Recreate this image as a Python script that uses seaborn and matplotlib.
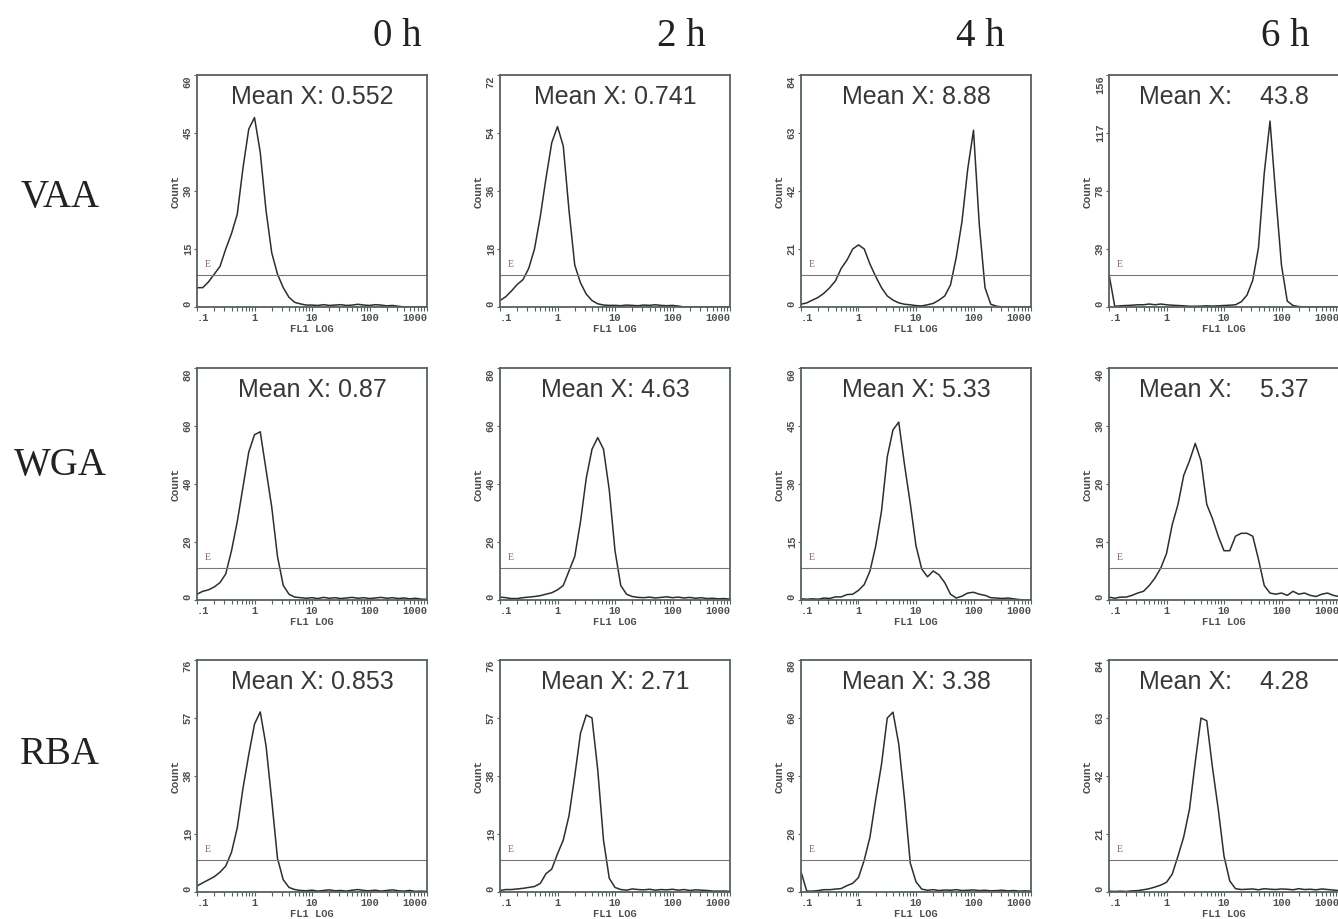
import numpy as np
import matplotlib
matplotlib.use('Agg')
import matplotlib.pyplot as plt
import seaborn as sns
from matplotlib.ticker import FixedLocator, NullFormatter, LogLocator

sns.set_theme(style='white')
plt.rcParams['font.family'] = ['Liberation Mono', 'DejaVu Sans Mono']

# FL1 channel centres, 0.1-decade bins from .1 to 1000
fl1 = 10 ** (np.arange(41) / 10 - 1)

times = ['0 h', '2 h', '4 h', '6 h']
lectins = ['VAA', 'WGA', 'RBA']

# counts (41 bins each)
vaa_0h = [5, 5, 6.5, 8.5, 10.5, 15, 19, 24, 36, 46,
          49, 40, 25, 14, 8.5, 5, 2.5, 1.2, 0.8, 0.5,
          0.5, 0.4, 0.6, 0.4, 0.5, 0.6, 0.4, 0.5, 0.7, 0.5,
          0.4, 0.6, 0.5, 0.3, 0.4, 0.2, 0, 0, 0, 0, 0]
vaa_2h = [2, 3.2, 5, 7, 8.5, 12, 18, 28, 40, 51,
          56, 50, 30, 13, 7.5, 4, 2, 1, 0.6, 0.5,
          0.5, 0.4, 0.6, 0.5, 0.4, 0.6, 0.5, 0.7, 0.5, 0.4,
          0.5, 0.3, 0, 0, 0, 0, 0, 0, 0, 0, 0]
vaa_4h = [1, 1.5, 2.5, 3.5, 5, 7, 9.5, 14, 17, 21,
          22.5, 21, 15.5, 11, 7, 4, 2.5, 1.5, 1, 0.8,
          0.5, 0.4, 0.8, 1.3, 2.5, 4, 8, 18, 31, 50,
          64, 30, 7, 1, 0.3, 0, 0, 0, 0, 0, 0]
vaa_6h = [22, 0.5, 0.8, 1, 1.2, 1.5, 1.5, 2, 1.5, 2,
          1.5, 1.2, 1, 0.8, 0.5, 0.5, 0.6, 0.8, 0.6, 0.8,
          1, 1.2, 1.5, 3.5, 8, 18, 40, 90, 125, 75,
          28, 4, 1, 0.3, 0, 0, 0, 0, 0, 0, 0]
wga_0h = [2, 3, 3.5, 4.5, 6, 9, 17, 27, 39, 51,
          57, 58, 45, 32, 15, 5, 2, 1, 0.8, 0.6,
          0.8, 0.5, 0.9, 0.6, 0.8, 0.5, 0.7, 0.9, 0.6, 0.8,
          0.5, 0.7, 0.9, 0.6, 0.8, 0.5, 0.7, 0.4, 0.6, 0.3, 0.2]
wga_2h = [1, 0.8, 0.5, 0.5, 0.8, 1, 1.2, 1.5, 2, 2.5,
          3.5, 5, 10, 15, 27, 42, 52, 56, 52, 38,
          17, 5, 2, 1.2, 0.9, 0.8, 1, 0.7, 0.9, 1.1,
          0.8, 1, 0.7, 0.9, 0.6, 0.8, 0.5, 0.6, 0.4, 0.5, 0.3]
wga_4h = [0.3, 0.2, 0.3, 0.2, 0.5, 0.4, 0.8, 0.8, 1.4, 1.5,
          2.5, 4, 7.5, 14, 23, 37, 44, 46, 35, 25,
          14, 8, 6, 7.5, 6.5, 4.5, 1.5, 0.5, 1, 1.8,
          2, 1.5, 1.2, 0.6, 0.5, 0.4, 0.5, 0.3, 0.1, 0, 0]
wga_6h = [0.5, 0.3, 0.5, 0.5, 0.8, 1.2, 1.5, 2.5, 3.8, 5.5,
          8, 13, 16.5, 21.5, 24, 27, 24, 16.5, 14, 11,
          8.5, 8.5, 11, 11.5, 11.5, 11, 7, 2.5, 1.2, 1,
          1.2, 0.8, 1.5, 1, 1.2, 0.8, 0.6, 1, 1.2, 0.8, 0.6]
rba_0h = [2, 3, 4, 5, 6.5, 8.5, 13, 21, 34, 45,
          55, 59, 48, 30, 11, 4, 1.5, 0.8, 0.5, 0.4,
          0.6, 0.3, 0.5, 0.7, 0.4, 0.5, 0.3, 0.6, 0.8, 0.5,
          0.4, 0.6, 0.3, 0.5, 0.7, 0.4, 0.3, 0.5, 0.2, 0.3, 0.2]
rba_2h = [0.5, 0.8, 0.8, 1, 1.2, 1.5, 1.8, 2.8, 6, 7.5,
          12.5, 17, 25, 38, 52, 58, 57, 40, 17, 4.5,
          1.5, 0.8, 0.6, 1, 0.8, 0.7, 0.9, 0.6, 0.8, 0.7,
          0.9, 0.6, 0.8, 0.5, 0.7, 0.6, 0.5, 0.3, 0.3, 0.3, 0.2]
rba_4h = [7, 0.3, 0.3, 0.5, 0.8, 0.8, 1, 1.2, 2.2, 3,
          5, 11, 19, 32, 44, 60, 62, 51, 32, 10,
          3.5, 1, 0.6, 0.8, 0.5, 0.7, 0.6, 0.8, 0.5, 0.6,
          0.7, 0.5, 0.6, 0.4, 0.5, 0.6, 0.4, 0.5, 0.3, 0.4, 0.3]
rba_6h = [0.3, 0.2, 0.3, 0.2, 0.4, 0.5, 0.8, 1.2, 1.8, 2.5,
          3.5, 6.5, 13, 20, 30, 47, 63, 62, 45, 30,
          13, 4, 1.2, 0.9, 1, 1.1, 0.8, 1.2, 1, 0.9,
          1.1, 1, 0.8, 1.2, 0.9, 1, 0.8, 1.1, 0.9, 0.7, 0.5]

counts = [[vaa_0h, vaa_2h, vaa_4h, vaa_6h],
          [wga_0h, wga_2h, wga_4h, wga_6h],
          [rba_0h, rba_2h, rba_4h, rba_6h]]

# top of the count axis for each panel
y_max = [[60, 72, 84, 156],
         [80, 80, 60, 40],
         [76, 76, 80, 84]]

mean_labels = [['Mean X: 0.552', 'Mean X: 0.741', 'Mean X: 8.88', 'Mean X:    43.8'],
               ['Mean X: 0.87', 'Mean X: 4.63', 'Mean X: 5.33', 'Mean X:    5.37'],
               ['Mean X: 0.853', 'Mean X: 2.71', 'Mean X: 3.38', 'Mean X:    4.28']]

x_ticks = [0.1, 1, 10, 100, 1000]
x_tick_labels = ['.1', '1', '10', '100', '1000']

# layout in pixels
W, H = 1338, 919
col_left = [197, 500, 801, 1109]
row_top = [75, 368, 660]
ax_w, ax_h = 230, 232
col_title_x = [397, 681, 980, 1285]
row_label_y = [198, 466, 755]

frame_col = '#56625e'
line_col = '#2e2e2e'
label_col = '#4a4f4d'

fig = plt.figure(figsize=(W / 100, H / 100), dpi=100)
fig.patch.set_facecolor('white')

for c, t in enumerate(times):
    fig.text(col_title_x[c] / W, 1 - 37 / H, t, family='Liberation Serif',
             size=28, ha='center', va='center', color='#222222')

for r, lectin in enumerate(lectins):
    fig.text(60 / W, 1 - row_label_y[r] / H, lectin, family='Liberation Serif',
             size=28, ha='center', va='center', color='#222222')
    for c in range(4):
        ax = fig.add_axes([col_left[c] / W, 1 - (row_top[r] + ax_h) / H,
                           ax_w / W, ax_h / H])
        sns.lineplot(x=fl1, y=counts[r][c], ax=ax, color=line_col, linewidth=1.1)
        ax.set_xscale('log')
        ax.set_xlim(0.1, 1000)
        ymax = y_max[r][c]
        ax.set_ylim(0, ymax)

        # gate marker
        ax.axhline(0.14 * ymax, color='#777777', linewidth=0.8)
        ax.text(0.035, 0.165, 'E', transform=ax.transAxes, family='Liberation Serif',
                size=7, color='#8a6258', ha='left', va='bottom')

        ax.text(0.5, 0.905, mean_labels[r][c], transform=ax.transAxes,
                family='Liberation Sans', size=18, color='#383838',
                ha='center', va='center')

        for s in ax.spines.values():
            s.set_color(frame_col)
            s.set_linewidth(1.3)

        ax.xaxis.set_major_locator(FixedLocator(x_ticks))
        ax.xaxis.set_minor_locator(LogLocator(base=10, subs=np.arange(2, 10)))
        ax.xaxis.set_minor_formatter(NullFormatter())
        ax.set_xticklabels(x_tick_labels)
        ax.tick_params(axis='x', which='both', bottom=True, length=3, width=0.8,
                       color=frame_col, pad=1, labelsize=7.5, labelcolor=label_col)
        xl = ax.get_xticklabels()
        xl[0].set_ha('left')
        xl[-1].set_ha('right')
        for lbl in xl:
            lbl.set_fontweight('bold')

        yt = [ymax * k / 4 for k in range(5)]
        ax.set_yticks(yt)
        ax.set_yticklabels([str(int(round(v))) for v in yt], rotation=90)
        ax.tick_params(axis='y', left=True, length=2, width=0.8, color=frame_col,
                       pad=1, labelsize=7.5, labelcolor=label_col)
        yl = ax.get_yticklabels()
        for lbl in yl:
            lbl.set_va('center')
            lbl.set_fontweight('bold')
        yl[0].set_va('bottom')
        yl[-1].set_va('top')

        ax.set_xlabel('FL1 LOG', fontsize=7.5, fontweight='bold', color=label_col)
        ax.set_ylabel('Count', fontsize=8, fontweight='bold', color=label_col)
        ax.xaxis.set_label_coords(0.5, -0.072)
        ax.yaxis.set_label_coords(-0.07, 0.5)
        ax.grid(False)

fig.savefig('out.png', dpi=100, facecolor='white')
